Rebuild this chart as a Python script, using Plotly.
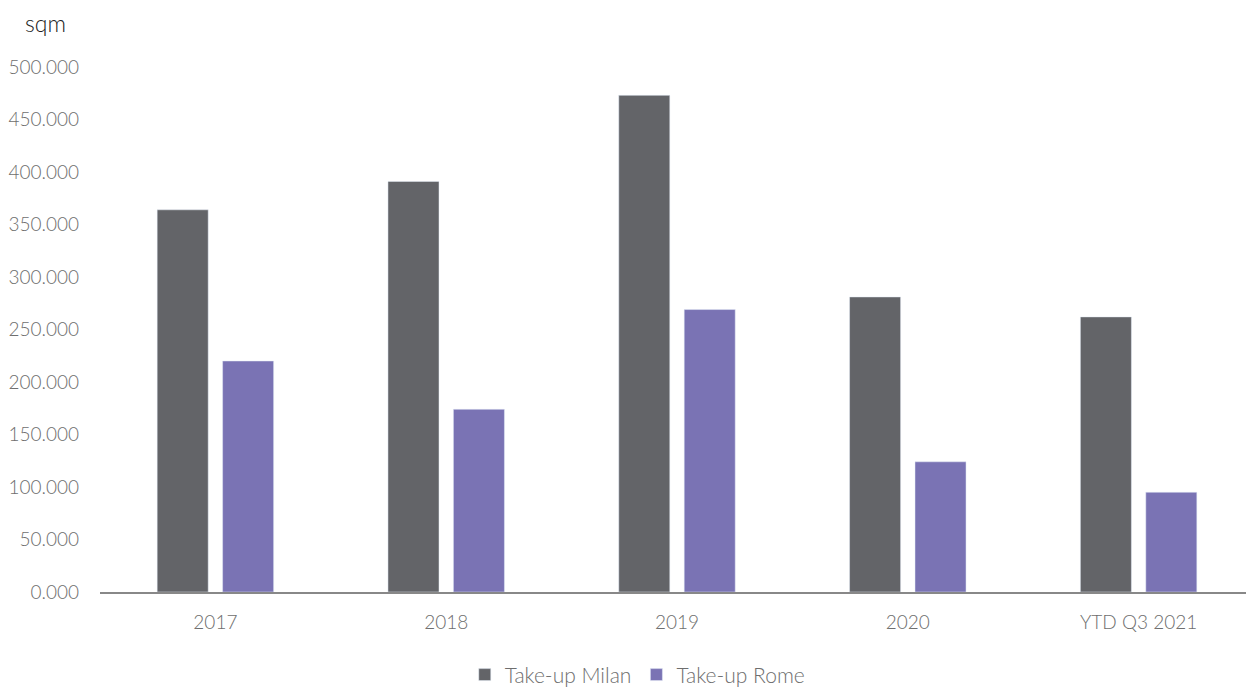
import plotly.graph_objects as go

categories = ["2017", "2018", "2019", "2020", "YTD Q3 2021"]
milan = [364000, 391000, 473000, 281000, 262000]
rome = [220000, 174000, 269000, 124000, 95000]
tick_vals = [0, 50000, 100000, 150000, 200000, 250000, 300000, 350000, 400000, 450000, 500000]
tick_text = ["0.000", "50.000", "100.000", "150.000", "200.000", "250.000",
             "300.000", "350.000", "400.000", "450.000", "500.000"]

FONT = "Lato"
fig = go.Figure()
fig.add_trace(go.Bar(name="Take-up Milan", x=categories, y=milan, marker_color="#636468"))
fig.add_trace(go.Bar(name="Take-up Rome", x=categories, y=rome, marker_color="#7A73B4"))

fig.update_layout(
    width=1254, height=690,
    margin=dict(l=92, r=8, t=59, b=106, autoexpand=False),
    plot_bgcolor="white", paper_bgcolor="white",
    barmode="group", bargap=0.433, bargroupgap=0.22,
    font=dict(family=FONT, size=19, color="#6e6e6e", weight=300),
    legend=dict(orientation="h", x=0.466, xanchor="center", y=-0.158, yanchor="middle",
                font=dict(size=21, color="#6e6e6e"), itemwidth=30),
    showlegend=True,
)
fig.update_xaxes(showline=True, linecolor="#888888", linewidth=2, ticks="",
                 tickfont=dict(size=19, color="#6e6e6e"), ticklabelstandoff=12)
fig.update_yaxes(range=[0, 500000], tickvals=tick_vals, ticktext=tick_text,
                 showgrid=False, zeroline=False, showline=False,
                 tickfont=dict(size=19, color="#6e6e6e"), ticklabelstandoff=20)
fig.add_annotation(text="sqm", xref="paper", yref="paper", x=-0.066, y=1.1124,
                   xanchor="left", yanchor="top", showarrow=False, borderpad=0,
                   font=dict(size=23, color="#222222", family=FONT))
fig.write_html("out.html")
